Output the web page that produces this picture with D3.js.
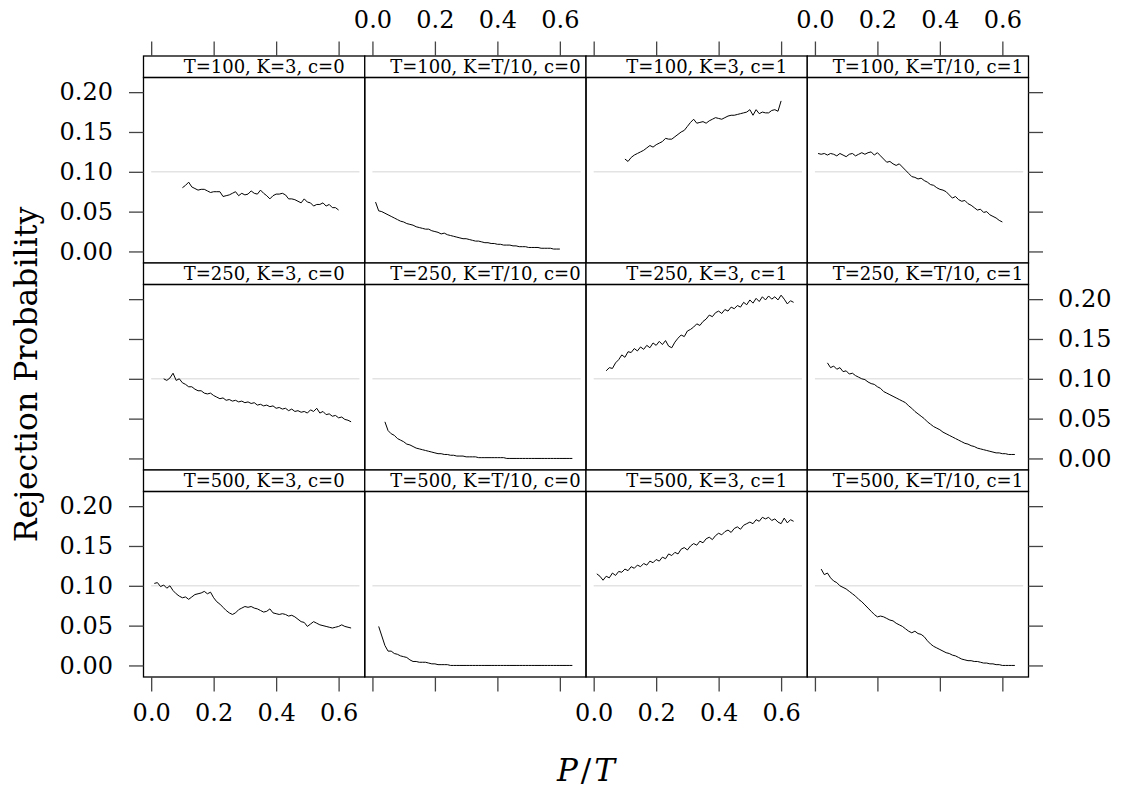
<!DOCTYPE html>
<html>
<head>
<meta charset="utf-8">
<script src="https://cdn.jsdelivr.net/npm/d3@7"></script>
<style>
  body { margin: 0; background: #fff; }
  text { font-family: "DejaVu Serif", serif; fill: #000; }
</style>
</head>
<body>
<svg id="chart" width="1122" height="787"></svg>
<script>
// panel conditions
const rowLabels = ["T=100", "T=250", "T=500"];
const colLabels = ["K=3, c=0", "K=T/10, c=0", "K=3, c=1", "K=T/10, c=1"];
const xTicks = [0, 0.2, 0.4, 0.6];
const yTicks = [0, 0.05, 0.10, 0.15, 0.20];
const refLevel = 0.10;

// first P/T of each series (grid step 0.01)
const xStep = 0.01;
const xStart = [
    [0.10, 0.01, 0.10, 0.01],
    [0.04, 0.04, 0.04, 0.04],
    [0.01, 0.02, 0.01, 0.02]
];

// rejection probabilities, T=100
const t100_k3_c0 = [0.080,0.083,0.087,0.081,0.079,0.077,0.078,0.078,0.076,0.074,0.075,0.075,0.075,0.069,0.070,0.071,0.073,0.075,0.070,0.073,0.071,0.072,0.076,0.073,0.072,0.077,0.073,0.070,0.066,0.070,0.072,0.072,0.073,0.071,0.066,0.066,0.065,0.063,0.061,0.066,0.062,0.061,0.057,0.059,0.059,0.061,0.057,0.059,0.055,0.055,0.052];
const t100_kT_c0 = [0.062,0.051,0.050,0.048,0.046,0.044,0.042,0.040,0.038,0.037,0.035,0.034,0.033,0.031,0.030,0.029,0.028,0.028,0.026,0.025,0.024,0.022,0.023,0.021,0.020,0.019,0.018,0.017,0.016,0.016,0.015,0.014,0.013,0.013,0.012,0.011,0.011,0.010,0.010,0.009,0.009,0.008,0.008,0.008,0.007,0.007,0.006,0.006,0.006,0.005,0.005,0.005,0.005,0.004,0.004,0.004,0.004,0.003,0.003,0.003];
const t100_k3_c1 = [0.116,0.113,0.118,0.121,0.123,0.125,0.127,0.130,0.133,0.131,0.134,0.136,0.138,0.142,0.141,0.141,0.144,0.147,0.150,0.152,0.157,0.162,0.166,0.161,0.162,0.163,0.161,0.164,0.166,0.168,0.167,0.166,0.168,0.170,0.171,0.171,0.172,0.173,0.174,0.175,0.178,0.171,0.178,0.173,0.175,0.174,0.174,0.177,0.178,0.176,0.189];
const t100_kT_c1 = [0.123,0.122,0.123,0.121,0.123,0.122,0.120,0.123,0.121,0.119,0.122,0.123,0.120,0.122,0.124,0.122,0.124,0.125,0.121,0.124,0.120,0.116,0.112,0.113,0.110,0.108,0.110,0.106,0.102,0.098,0.094,0.093,0.091,0.092,0.089,0.087,0.084,0.083,0.080,0.078,0.077,0.075,0.071,0.067,0.069,0.065,0.063,0.064,0.060,0.058,0.055,0.052,0.053,0.049,0.050,0.046,0.044,0.042,0.039,0.037];

// T=250
const t250_k3_c0 = [0.100,0.098,0.101,0.107,0.098,0.100,0.095,0.093,0.090,0.090,0.087,0.085,0.085,0.082,0.081,0.082,0.079,0.077,0.075,0.076,0.073,0.074,0.072,0.073,0.071,0.072,0.070,0.071,0.069,0.070,0.067,0.068,0.066,0.067,0.065,0.066,0.063,0.064,0.062,0.063,0.060,0.062,0.059,0.060,0.058,0.059,0.057,0.061,0.059,0.063,0.057,0.059,0.055,0.056,0.053,0.054,0.051,0.052,0.049,0.048,0.046];
const t250_kT_c0 = [0.046,0.035,0.031,0.029,0.025,0.023,0.021,0.018,0.017,0.015,0.013,0.012,0.011,0.010,0.009,0.008,0.007,0.006,0.006,0.005,0.005,0.004,0.004,0.003,0.003,0.003,0.002,0.002,0.002,0.002,0.001,0.001,0.001,0.001,0.001,0.001,0.001,0.001,0.001,0.000,0.000,0.000,0.000,0.000,0.000,0.000,0.000,0.000,0.000,0.000,0.000,0.000,0.000,0.000,0.000,0.000,0.000,0.000,0.000,0.000,0.000];
const t250_k3_c1 = [0.110,0.114,0.113,0.120,0.124,0.130,0.127,0.134,0.133,0.138,0.135,0.140,0.137,0.142,0.139,0.145,0.142,0.147,0.143,0.148,0.141,0.139,0.146,0.151,0.155,0.153,0.160,0.162,0.165,0.169,0.167,0.172,0.175,0.180,0.178,0.183,0.185,0.182,0.187,0.185,0.190,0.188,0.192,0.190,0.196,0.193,0.199,0.195,0.201,0.197,0.203,0.199,0.204,0.200,0.203,0.199,0.205,0.200,0.194,0.198,0.196];
const t250_kT_c1 = [0.120,0.114,0.116,0.112,0.114,0.109,0.110,0.106,0.107,0.104,0.102,0.100,0.099,0.096,0.094,0.093,0.090,0.088,0.084,0.082,0.080,0.078,0.076,0.074,0.072,0.070,0.066,0.063,0.059,0.056,0.053,0.050,0.046,0.043,0.040,0.038,0.036,0.033,0.031,0.029,0.027,0.025,0.023,0.021,0.019,0.018,0.016,0.015,0.013,0.012,0.011,0.010,0.009,0.008,0.007,0.007,0.006,0.006,0.005,0.005,0.005];

// T=500
const t500_k3_c0 = [0.103,0.104,0.099,0.101,0.097,0.100,0.094,0.090,0.087,0.085,0.086,0.083,0.086,0.089,0.090,0.091,0.093,0.090,0.092,0.085,0.080,0.077,0.073,0.069,0.066,0.064,0.066,0.070,0.072,0.074,0.073,0.074,0.072,0.071,0.069,0.067,0.068,0.071,0.066,0.065,0.064,0.065,0.064,0.062,0.063,0.061,0.058,0.055,0.054,0.049,0.052,0.055,0.053,0.051,0.050,0.049,0.048,0.047,0.048,0.049,0.051,0.049,0.048,0.047];
const t500_kT_c0 = [0.049,0.037,0.025,0.018,0.018,0.015,0.014,0.012,0.011,0.010,0.007,0.005,0.005,0.004,0.004,0.004,0.003,0.002,0.002,0.001,0.001,0.001,0.001,0.000,0.000,0.000,0.000,0.000,0.000,0.000,0.000,0.000,0.000,0.000,0.000,0.000,0.000,0.000,0.000,0.000,0.000,0.000,0.000,0.000,0.000,0.000,0.000,0.000,0.000,0.000,0.000,0.000,0.000,0.000,0.000,0.000,0.000,0.000,0.000,0.000,0.000,0.000,0.000];
const t500_k3_c1 = [0.115,0.112,0.107,0.112,0.110,0.116,0.113,0.118,0.117,0.121,0.119,0.124,0.122,0.126,0.124,0.128,0.126,0.131,0.129,0.133,0.131,0.136,0.134,0.140,0.138,0.142,0.140,0.146,0.148,0.145,0.150,0.153,0.151,0.156,0.154,0.159,0.161,0.158,0.163,0.166,0.164,0.168,0.170,0.167,0.172,0.174,0.171,0.176,0.178,0.180,0.178,0.183,0.181,0.186,0.184,0.186,0.182,0.184,0.180,0.178,0.185,0.179,0.183,0.181];
const t500_kT_c1 = [0.121,0.114,0.116,0.110,0.106,0.104,0.100,0.098,0.096,0.093,0.090,0.087,0.083,0.080,0.076,0.072,0.068,0.064,0.061,0.062,0.061,0.059,0.057,0.056,0.053,0.051,0.049,0.046,0.043,0.041,0.043,0.040,0.039,0.036,0.031,0.027,0.024,0.022,0.020,0.018,0.016,0.015,0.013,0.012,0.010,0.008,0.007,0.006,0.006,0.005,0.005,0.004,0.003,0.003,0.002,0.002,0.001,0.001,0.000,0.000,0.000,0.000,0.000];

const series = [
    [t100_k3_c0, t100_kT_c0, t100_k3_c1, t100_kT_c1],
    [t250_k3_c0, t250_kT_c0, t250_k3_c1, t250_kT_c1],
    [t500_k3_c0, t500_kT_c0, t500_k3_c1, t500_kT_c1]
];

// layout of the lattice
const padLeft = 143.5, padTop = 56;
const colW = 221.25, stripH = 21.5, panelH = 185.5, rowH = 207;
const tickLen = 14.5;

const svg = d3.select("#chart");

const x = d3.scaleLinear().domain([-0.0246, 0.6837]).range([0, colW]);
const y = d3.scaleLinear().domain([-0.0145, 0.2184]).range([panelH, 0]);

const line = d3.line()
    .x(d => x(d[0]))
    .y(d => y(d[1]));

const fmtX = d3.format(".1f");
const fmtY = d3.format(".2f");

function styleAxis(ax) {
    ax.select(".domain").remove();
    ax.selectAll(".tick line").attr("stroke", "#444").attr("stroke-width", 1.3);
    ax.selectAll(".tick text")
        .style("font-family", "'DejaVu Serif', serif")
        .style("font-size", "24px")
        .attr("fill", "#000");
}

series.forEach((row, r) => {
    row.forEach((vals, c) => {
        const gx = padLeft + c * colW;
        const gy = padTop + r * rowH;

        // strip
        const strip = svg.append("g").attr("transform", `translate(${gx},${gy})`);
        strip.append("rect")
            .attr("width", colW).attr("height", stripH)
            .attr("fill", "#fff").attr("stroke", "#000").attr("stroke-width", 1.3);
        strip.append("text")
            .attr("x", colW / 2 + 10).attr("y", stripH - 4.5)
            .attr("text-anchor", "middle")
            .style("font-size", "18px")
            .text(`${rowLabels[r]}, ${colLabels[c]}`);

        // panel
        const g = svg.append("g").attr("transform", `translate(${gx},${gy + stripH})`);
        g.append("line")
            .attr("x1", x(0)).attr("x2", x(2 / 3))
            .attr("y1", y(refLevel)).attr("y2", y(refLevel))
            .attr("stroke", "#e3e3e3").attr("stroke-width", 1.5);

        const pts = vals.map((v, i) => [xStart[r][c] + i * xStep, v]);
        g.append("path")
            .datum(pts)
            .attr("d", line)
            .attr("fill", "none")
            .attr("stroke", "#000")
            .attr("stroke-width", 1);

        g.append("rect")
            .attr("width", colW).attr("height", panelH)
            .attr("fill", "none").attr("stroke", "#000").attr("stroke-width", 1.3);

        // top and bottom axes
        if (r === 0) {
            const ax = svg.append("g").attr("transform", `translate(${gx},${padTop})`)
                .call(d3.axisTop(x).tickValues(xTicks).tickSize(tickLen).tickPadding(14)
                    .tickFormat(c % 2 === 1 ? fmtX : ""));
            styleAxis(ax);
        }
        if (r === 2) {
            const ax = svg.append("g").attr("transform", `translate(${gx},${gy + stripH + panelH})`)
                .call(d3.axisBottom(x).tickValues(xTicks).tickSize(tickLen).tickPadding(12)
                    .tickFormat(c % 2 === 0 ? fmtX : ""));
            styleAxis(ax);
        }
    });

    // left and right axes
    const py = padTop + r * rowH + stripH;
    const axL = svg.append("g").attr("transform", `translate(${padLeft},${py})`)
        .call(d3.axisLeft(y).tickValues(yTicks).tickSize(tickLen).tickPadding(16)
            .tickFormat(r % 2 === 0 ? fmtY : ""));
    styleAxis(axL);
    const axR = svg.append("g").attr("transform", `translate(${padLeft + 4 * colW},${py})`)
        .call(d3.axisRight(y).tickValues(yTicks).tickSize(tickLen).tickPadding(15)
            .tickFormat(r % 2 === 1 ? fmtY : ""));
    styleAxis(axR);
});

// axis titles
svg.append("text")
    .attr("transform", `translate(37,${padTop + 3 * rowH / 2 + 8}) rotate(-90)`)
    .attr("text-anchor", "middle")
    .style("font-size", "31.5px")
    .text("Rejection Probability");

const xTitle = svg.append("text")
    .attr("x", padLeft + 2 * colW).attr("y", 781)
    .attr("text-anchor", "middle")
    .style("font-size", "31px");
xTitle.append("tspan").style("font-style", "italic").text("P");
xTitle.append("tspan").attr("dx", 3).text("/");
xTitle.append("tspan").attr("dx", 3).style("font-style", "italic").text("T");
</script>
</body>
</html>
